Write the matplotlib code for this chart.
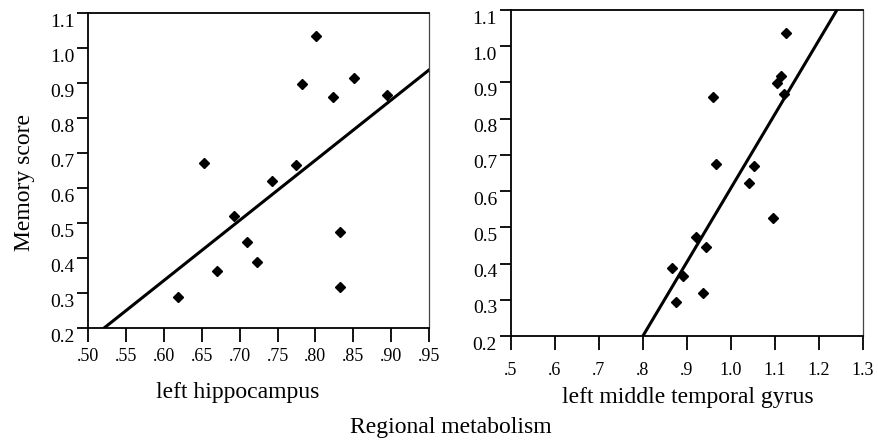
import numpy as np
import matplotlib
matplotlib.use("Agg")
import matplotlib.pyplot as plt
import matplotlib.transforms as mtransforms

plt.rcParams['font.family'] = ['Liberation Serif', 'DejaVu Serif']

# left hippocampus
hip_x = [0.618, 0.653, 0.670, 0.693, 0.710, 0.723, 0.743, 0.774,
         0.782, 0.801, 0.823, 0.832, 0.832, 0.851, 0.895]
hip_y = [0.290, 0.673, 0.364, 0.522, 0.446, 0.389, 0.621, 0.666,
         0.899, 1.035, 0.862, 0.474, 0.319, 0.916, 0.868]
hip_fit = [1.718, -0.694]  # slope, intercept

# left middle temporal gyrus
mtg_x = [0.867, 0.875, 0.891, 0.921, 0.937, 0.944, 0.959, 0.967,
         1.041, 1.053, 1.096, 1.106, 1.113, 1.122, 1.126]
mtg_y = [0.389, 0.295, 0.365, 0.474, 0.320, 0.446, 0.860, 0.675,
         0.623, 0.668, 0.525, 0.899, 0.918, 0.867, 1.036]
mtg_fit = [2.04, -1.432]

y_ticks = [0.2, 0.3, 0.4, 0.5, 0.6, 0.7, 0.8, 0.9, 1.0, 1.1]
y_labels = ["0.2", "0.3", "0.4", "0.5", "0.6", "0.7", "0.8", "0.9", "1.0", "1.1"]
hip_ticks = [0.50, 0.55, 0.60, 0.65, 0.70, 0.75, 0.80, 0.85, 0.90, 0.95]
hip_labels = [".50", ".55", ".60", ".65", ".70", ".75", ".80", ".85", ".90", ".95"]
mtg_ticks = [0.5, 0.6, 0.7, 0.8, 0.9, 1.0, 1.1, 1.2, 1.3]
mtg_labels = [".5", ".6", ".7", ".8", ".9", "1.0", "1.1", "1.2", "1.3"]


def panel(ax, x, y, fit, xticks, xlabels, xlabel, xpad):
    xs = np.array([xticks[0], xticks[-1]])
    ax.plot(xs, fit[0] * xs + fit[1], color='black', lw=2.2, zorder=2)
    ax.plot(x, y, 'D', color='black', ms=5, zorder=3)
    ax.set_xlim(xticks[0], xticks[-1])
    ax.set_ylim(0.2, 1.1)
    ax.set_xticks(xticks)
    ax.set_xticklabels(xlabels)
    ax.set_yticks(y_ticks)
    ax.set_yticklabels(y_labels)
    ax.tick_params(axis='x', direction='out', length=10, width=1.3, pad=xpad, labelsize=13)
    ax.tick_params(axis='y', direction='out', length=8, width=1.3, pad=2, labelsize=14)
    # the y labels sit a bit below their ticks in the original
    shift = mtransforms.ScaledTranslation(0, -0.07, ax.figure.dpi_scale_trans)
    for lab in ax.get_yticklabels():
        lab.set_transform(lab.get_transform() + shift)
    for s in ax.spines.values():
        s.set_linewidth(1.3)
    ax.spines['right'].set_linewidth(0.9)
    ax.spines['right'].set_color('#444444')
    ax.set_xlabel(xlabel, fontsize=17, va='center')


fig = plt.figure(figsize=(8.79, 4.45), dpi=100)
ax1 = fig.add_axes([0.1005, 0.2623, 0.3875, 0.7077])
ax2 = fig.add_axes([0.5813, 0.2449, 0.4002, 0.7326])

panel(ax1, hip_x, hip_y, hip_fit, hip_ticks, hip_labels, "left hippocampus", 4)
panel(ax2, mtg_x, mtg_y, mtg_fit, mtg_ticks, mtg_labels, "left middle temporal gyrus", 9)

ax1.xaxis.set_label_coords(0.439, -0.205)
ax2.xaxis.set_label_coords(0.503, -0.19)

fig.text(0.028, 0.589, "Memory score", rotation=90, ha='center', va='center', fontsize=17)
fig.text(0.513, 0.040, "Regional metabolism", ha='center', va='center', fontsize=17)

fig.savefig("out.png", dpi=100)
